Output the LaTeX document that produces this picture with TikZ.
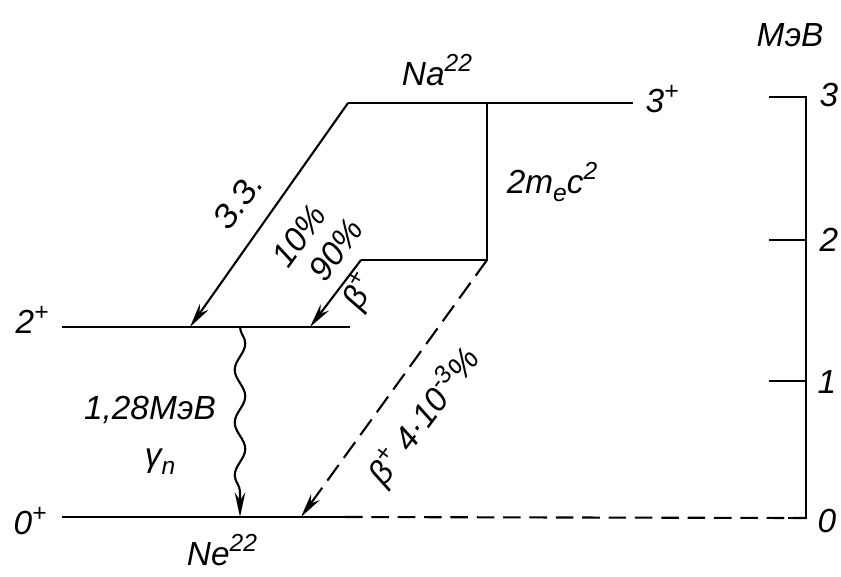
\documentclass[tikz,border=0pt]{standalone}
\usepackage{fontspec}
\setmainfont{Liberation Sans}
\usetikzlibrary{arrows.meta, decorations.pathmorphing}

\newcommand{\up}[1]{\raisebox{0.75ex}{\fontsize{14}{14}\selectfont #1}}
\newcommand{\dn}[1]{\raisebox{-0.45ex}{\fontsize{14}{14}\selectfont #1}}

\begin{document}
\begin{tikzpicture}[x=0.02cm, y=-0.02cm,
    font=\fontsize{19}{22}\selectfont\itshape,
    level/.style={line width=1.6pt},
    trans/.style={line width=1.2pt, -{Stealth[length=14pt, width=6pt]}},
    axisline/.style={line width=1pt}]
    \useasboundingbox (0,0) rectangle (841,576);

    % Level points
    \coordinate (na-l) at (348,103);
    \coordinate (na-m) at (487,103);
    \coordinate (na-r) at (633,103);
    \coordinate (pos-r) at (487,260);
    \coordinate (pos-l) at (361,260);
    \coordinate (ex-l) at (62,327);
    \coordinate (ex-r) at (350,327);
    \coordinate (ex-a) at (190,327);
    \coordinate (ex-b) at (310,327);
    \coordinate (ex-w) at (240,327);
    \coordinate (gs-l) at (62,517);
    \coordinate (gs-m) at (345,517);
    \coordinate (gs-w) at (240,517);
    \coordinate (gs-d) at (301,517);

    % Energy scale
    \coordinate (ax-3) at (806,97);
    \coordinate (ax-2) at (806,240);
    \coordinate (ax-1) at (806,381);
    \coordinate (ax-0) at (806,518);

    % Levels
    \draw[level] (na-l) -- (na-r);
    \draw[level] (ex-l) -- (ex-r);
    \draw[level] (gs-l) -- (gs-m);
    \draw[level, line width=1.2pt, dash pattern=on 10pt off 5pt] (gs-m) -- (ax-0);

    % 2 m_e c^2 step
    \draw[level, line width=1.3pt] (na-m) -- (pos-r) -- (pos-l);

    % Transitions
    \draw[trans] (na-l) -- (ex-a);
    \draw[trans] (pos-l) -- (ex-b);
    \draw[trans, dash pattern=on 11pt off 5pt] (pos-r) -- (gs-d);
    \draw[trans, decorate, decoration={snake, amplitude=3pt,
        segment length=30pt, post length=14pt}] (ex-w) -- (gs-w);

    % Scale
    \draw[axisline] ([xshift=-21]ax-3) -- (ax-3) -- (ax-0) -- ([xshift=-10]ax-0);
    \draw[axisline] ([xshift=-21]ax-2) -- (ax-2);
    \draw[axisline] ([xshift=-21]ax-1) -- (ax-1);
    \node (u-3) at (829,95) {3};
    \node (u-2) at (829,240) {2};
    \node (u-1) at (827,382) {1};
    \node (u-0) at (827,521) {0};
    \node (unit) at (790,35) {МэВ};

    % Labels
    \node (na) at (437,70) {Na\up{22}};
    \node (ne) at (222,550) {Ne\up{22}};
    \node (j-na) at (662,99) {3\up{+}};
    \node (j-ex) at (32,320) {2\up{+}};
    \node (j-gs) at (30,521) {0\up{+}};
    \node (gap) at (552,182) {2m\dn{e}c\up{2}};
    \node (eg) at (150,410) {1,28МэВ};
    \node (gn) at (160,462) {γ\dn{n}};
    \node[rotate=54, inner sep=1pt] (ec) at (238,201) {З.З.};
    \node[rotate=54, inner sep=1pt] (p-ec) at (299,236) {10\%};
    \node[rotate=54, inner sep=1pt] (p-bp) at (336,250) {90\%};
    \node[rotate=60, inner sep=1pt] (bp) at (360,292) {β\up{+}};
    \node[rotate=53, inner sep=1pt] (bp-gs) at (424,416) {β\up{+} 4·10\up{-3}\%};
\end{tikzpicture}
\end{document}
